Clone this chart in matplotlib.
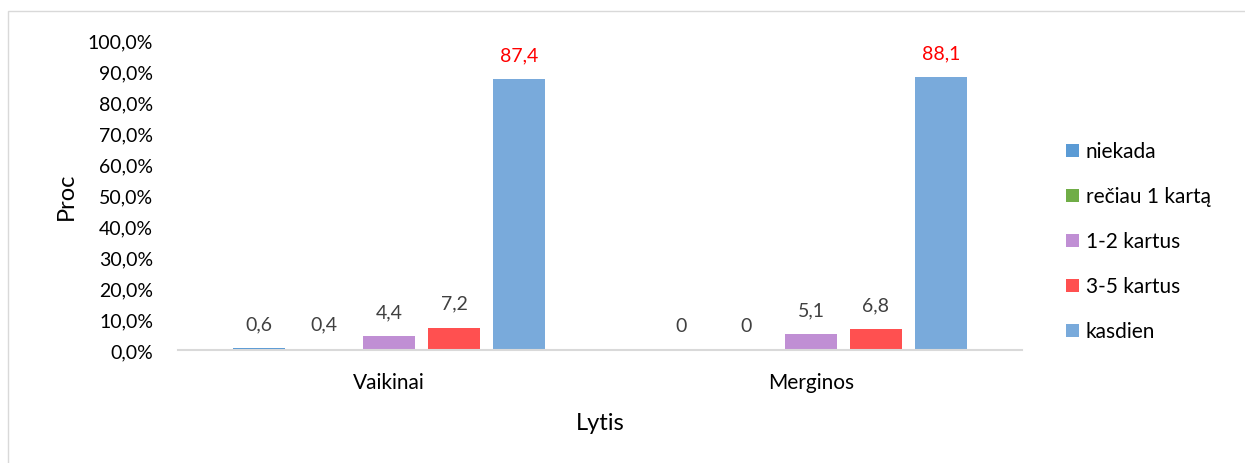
import matplotlib.pyplot as plt
import numpy as np
from matplotlib.patches import Rectangle

plt.rcParams['font.family'] = ['Lato', 'DejaVu Sans']

groups = ['Vaikinai', 'Merginos']
series = ['niekada', 'rečiau 1 kartą', '1-2 kartus', '3-5 kartus', 'kasdien']
values = {
    'niekada': [0.6, 0.0],
    'rečiau 1 kartą': [0.4, 0.0],
    '1-2 kartus': [4.4, 5.1],
    '3-5 kartus': [7.2, 6.8],
    'kasdien': [87.4, 88.1],
}
colors = ['#5B9BD5', '#70AD47', '#C08FD4', '#FF5050', '#79AADB']
label_colors = ['#404040', '#404040', '#404040', '#404040', '#FF0000']
yticks = np.arange(0, 101, 10)

fig = plt.figure(figsize=(12.45, 4.64), dpi=100)
ax = fig.add_axes([178 / 1245, 1 - 351 / 464, 844 / 1245, 310 / 464])

x = np.arange(len(groups))
step = 0.154
width = 0.123
for i, name in enumerate(series):
    pos = x + (i - 2) * step
    bars = ax.bar(pos, values[name], width, color=colors[i], label=name, zorder=2)
    for b, v in zip(bars, values[name]):
        txt = '0' if v == 0 else f'{v:.1f}'.replace('.', ',')
        ax.annotate(txt, (b.get_x() + b.get_width() / 2, v), xytext=(0, 16),
                    textcoords='offset pixels',
                    ha='center', va='bottom', fontsize=14, color=label_colors[i])

ax.set_xlim(-0.5, 1.5)
ax.set_ylim(0, 100)
ax.set_yticks(yticks)
ax.set_yticklabels([f'{t:.1f}%'.replace('.', ',') for t in yticks])
ax.set_xticks(x)
ax.set_xticklabels(groups)
ax.tick_params(axis='both', length=0, colors='#000000')
ax.tick_params(axis='y', pad=18, labelsize=14)
ax.tick_params(axis='x', pad=16, labelsize=15)
for s in ['top', 'right', 'left']:
    ax.spines[s].set_visible(False)
ax.spines['bottom'].set_color('#D9D9D9')
ax.spines['bottom'].set_linewidth(1.5)

ax.set_ylabel('Proc', fontsize=17, labelpad=8)
ax.set_xlabel('Lytis', fontsize=17, labelpad=14)

leg = ax.legend(loc='center left', bbox_to_anchor=(1.03, 0.35), frameon=False,
                fontsize=15, handlelength=0.6, handleheight=0.6,
                handletextpad=0.35, labelspacing=1.2)

fig.patches.append(Rectangle((8 / 1245, -0.1), 1.2, 1.1 - 12 / 464,
                             transform=fig.transFigure, fill=False,
                             edgecolor='#D9D9D9', linewidth=1))

fig.savefig('out.png', dpi=100)
